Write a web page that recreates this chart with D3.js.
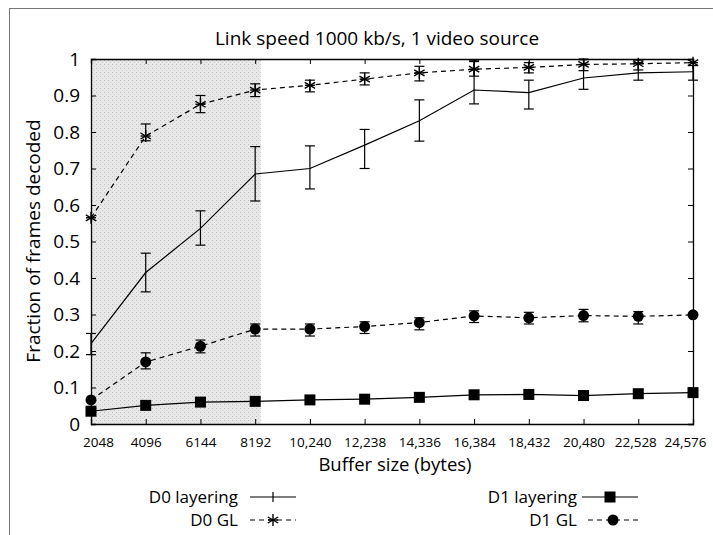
<!DOCTYPE html>
<html>
<head>
<meta charset="utf-8">
<script src="https://cdn.jsdelivr.net/npm/d3@7"></script>
<style>
  body { margin: 0; background: #fff; }
  svg { font-family: "Open Sans", "Noto Sans", sans-serif; }
</style>
</head>
<body>
<div id="chart"></div>
<script>
// buffer sizes (bytes) and their printed labels
const buffers = [2048, 4096, 6144, 8192, 10240, 12288, 14336, 16384, 18432, 20480, 22528, 24576];
const xLabels = ['2048', '4096', '6144', '8192', '10,240', '12,238', '14,336', '16,384', '18,432', '20,480', '22,528', '24,576'];
const yTicks = [0, 0.1, 0.2, 0.3, 0.4, 0.5, 0.6, 0.7, 0.8, 0.9, 1];

// fraction of frames decoded, with low/high of the error bars
const d0Layering = [0.22, 0.415, 0.536, 0.685, 0.70, 0.764, 0.831, 0.915, 0.908, 0.948, 0.962, 0.965];
const d0LayeringLo = [0.19, 0.362, 0.49, 0.611, 0.644, 0.70, 0.775, 0.877, 0.863, 0.917, 0.942, 0.942];
const d0LayeringHi = [0.248, 0.468, 0.584, 0.76, 0.762, 0.807, 0.888, 0.995, 0.942, 0.998, 0.99, 0.982];

const d0GL = [0.565, 0.789, 0.876, 0.915, 0.928, 0.945, 0.962, 0.972, 0.977, 0.985, 0.987, 0.99];
const d0GLLo = [0.565, 0.776, 0.853, 0.897, 0.91, 0.929, 0.94, 0.953, 0.962, 0.968, 0.97, 0.99];
const d0GLHi = [0.565, 0.822, 0.90, 0.932, 0.942, 0.962, 0.98, 0.993, 0.99, 1.0, 0.997, 0.99];

const d1Layering = [0.035, 0.051, 0.06, 0.062, 0.066, 0.068, 0.073, 0.08, 0.081, 0.078, 0.083, 0.086];

const d1GL = [0.066, 0.170, 0.213, 0.260, 0.260, 0.267, 0.278, 0.296, 0.291, 0.297, 0.295, 0.299];
const d1GLLo = [0.066, 0.151, 0.195, 0.241, 0.241, 0.248, 0.258, 0.278, 0.274, 0.28, 0.274, 0.299];
const d1GLHi = [0.066, 0.195, 0.23, 0.274, 0.274, 0.28, 0.291, 0.31, 0.306, 0.314, 0.308, 0.299];

const shadeEnd = 8400;

const width = 713;
const height = 535;
const plot = { left: 91, right: 693, top: 59, bottom: 424 };

const svg = d3.select('#chart')
  .append('svg')
  .attr('width', width)
  .attr('height', height);

const x = d3.scaleLinear()
  .domain([buffers[0], buffers[buffers.length - 1]])
  .range([plot.left, plot.right]);

const y = d3.scaleLinear()
  .domain([0, 1])
  .range([plot.bottom, plot.top]);

// page frame (top and left edges only, like the scan)
svg.append('line').attr('x1', 9).attr('x2', width).attr('y1', 8.5).attr('y2', 8.5)
  .attr('stroke', '#777').attr('stroke-width', 1);
svg.append('line').attr('x1', 9.5).attr('x2', 9.5).attr('y1', 8).attr('y2', height)
  .attr('stroke', '#777').attr('stroke-width', 1);

// shaded region
const pat = svg.append('defs').append('pattern')
  .attr('id', 'stipple')
  .attr('width', 4).attr('height', 4)
  .attr('patternUnits', 'userSpaceOnUse');
pat.append('rect').attr('width', 4).attr('height', 4).attr('fill', '#e8e8e8');
pat.append('rect').attr('x', 0).attr('y', 0).attr('width', 1).attr('height', 1).attr('fill', '#bcbcbc');
pat.append('rect').attr('x', 2).attr('y', 2).attr('width', 1).attr('height', 1).attr('fill', '#cccccc');

svg.append('rect')
  .attr('x', x(buffers[0]))
  .attr('y', y(1))
  .attr('width', x(shadeEnd) - x(buffers[0]))
  .attr('height', y(0) - y(1))
  .attr('fill', 'url(#stipple)');

// axes with inward ticks on all four sides
const tickLen = 5;
const xAxis = svg.append('g').attr('transform', `translate(0, ${plot.bottom})`)
  .call(d3.axisBottom(x).tickValues(buffers).tickSize(-tickLen).tickFormat((d, i) => xLabels[i]));
xAxis.selectAll('text')
  .attr('y', 13.5)
  .attr('font-size', 13.5)
  .attr('font-family', '"Open Sans", sans-serif')
  .attr('dx', (d, i) => i === 0 ? 7 : (i === buffers.length - 1 ? -8 : (i === buffers.length - 2 ? -3 : 0)));

svg.append('g').attr('transform', `translate(0, ${plot.top})`)
  .call(d3.axisTop(x).tickValues(buffers).tickSize(-tickLen).tickFormat(''));

const yAxis = svg.append('g').attr('transform', `translate(${plot.left}, 0)`)
  .call(d3.axisLeft(y).tickValues(yTicks).tickSize(-tickLen).tickFormat(d => d === 0 || d === 1 ? d : d.toFixed(1)));
yAxis.selectAll('text')
  .attr('x', -11)
  .attr('font-size', 19)
  .attr('font-family', '"Open Sans", sans-serif');

svg.append('g').attr('transform', `translate(${plot.right}, 0)`)
  .call(d3.axisRight(y).tickValues(yTicks).tickSize(-tickLen).tickFormat(''));

svg.selectAll('.domain').attr('stroke', '#000').attr('stroke-width', 1.3);
svg.selectAll('.tick line').attr('stroke', '#000');
svg.selectAll('.tick text').attr('fill', '#000');

// titles
svg.append('text')
  .attr('x', 377).attr('y', 45)
  .attr('text-anchor', 'middle')
  .attr('font-size', 19)
  .text('Link speed 1000 kb/s, 1 video source');

svg.append('text')
  .attr('x', 395).attr('y', 471)
  .attr('text-anchor', 'middle')
  .attr('font-size', 18.5)
  .text('Buffer size (bytes)');

svg.append('text')
  .attr('transform', 'translate(40, 241) rotate(-90)')
  .attr('text-anchor', 'middle')
  .attr('font-size', 19)
  .text('Fraction of frames decoded');

// series helpers
const line = d3.line().x((d, i) => x(buffers[i])).y(d => y(d));

function drawLine(values, dashed) {
  svg.append('path')
    .datum(values)
    .attr('d', line)
    .attr('fill', 'none')
    .attr('stroke', '#000')
    .attr('stroke-width', 1.2)
    .attr('stroke-dasharray', dashed ? '5,4' : null);
}

function drawErrors(lo, hi) {
  const g = svg.append('g').attr('stroke', '#000').attr('stroke-width', 1.2);
  buffers.forEach((b, i) => {
    if (hi[i] - lo[i] < 0.001) return;
    const cx = x(b);
    g.append('line').attr('x1', cx).attr('x2', cx).attr('y1', y(lo[i])).attr('y2', y(hi[i]));
    g.append('line').attr('x1', cx - 5).attr('x2', cx + 5).attr('y1', y(lo[i])).attr('y2', y(lo[i]));
    g.append('line').attr('x1', cx - 5).attr('x2', cx + 5).attr('y1', y(hi[i])).attr('y2', y(hi[i]));
  });
}

function star(g, cx, cy) {
  const r = 6;
  [0, 60, 120].forEach(a => {
    const rad = (a + 90) * Math.PI / 180;
    g.append('line')
      .attr('x1', cx - r * Math.cos(rad)).attr('y1', cy - r * Math.sin(rad))
      .attr('x2', cx + r * Math.cos(rad)).attr('y2', cy + r * Math.sin(rad))
      .attr('stroke', '#000').attr('stroke-width', 1.4);
  });
  g.append('line').attr('x1', cx - 5).attr('x2', cx + 5).attr('y1', cy).attr('y2', cy)
    .attr('stroke', '#000').attr('stroke-width', 1.4);
}

// D0 layering
drawLine(d0Layering, false);
drawErrors(d0LayeringLo, d0LayeringHi);

// D0 GL
drawLine(d0GL, true);
drawErrors(d0GLLo, d0GLHi);
const starG = svg.append('g');
d0GL.forEach((v, i) => star(starG, x(buffers[i]), y(v)));

// D1 layering
drawLine(d1Layering, false);
svg.append('g').selectAll('rect')
  .data(d1Layering)
  .join('rect')
  .attr('x', (d, i) => x(buffers[i]) - 5.5)
  .attr('y', d => y(d) - 5.5)
  .attr('width', 11)
  .attr('height', 11)
  .attr('fill', '#000');

// D1 GL
drawLine(d1GL, true);
drawErrors(d1GLLo, d1GLHi);
svg.append('g').selectAll('circle')
  .data(d1GL)
  .join('circle')
  .attr('cx', (d, i) => x(buffers[i]))
  .attr('cy', d => y(d))
  .attr('r', 5.5)
  .attr('fill', '#000');

// legend
const legend = svg.append('g').attr('font-size', 17);

function legendEntry(label, textX, ly, x1, x2, dashed, marker) {
  legend.append('text').attr('x', textX).attr('y', ly + 6).attr('text-anchor', 'end').text(label);
  legend.append('line').attr('x1', x1).attr('x2', x2).attr('y1', ly).attr('y2', ly)
    .attr('stroke', '#000').attr('stroke-width', 1.2)
    .attr('stroke-dasharray', dashed ? '5,4' : null);
  const mx = (x1 + x2) / 2;
  if (marker === 'bar') {
    legend.append('line').attr('x1', mx).attr('x2', mx).attr('y1', ly - 5).attr('y2', ly + 5)
      .attr('stroke', '#000').attr('stroke-width', 1.2);
  } else if (marker === 'star') {
    star(legend, mx, ly);
  } else if (marker === 'square') {
    legend.append('rect').attr('x', mx - 5.5).attr('y', ly - 5.5).attr('width', 11).attr('height', 11).attr('fill', '#000');
  } else if (marker === 'circle') {
    legend.append('circle').attr('cx', mx).attr('cy', ly).attr('r', 5.5).attr('fill', '#000');
  }
}

legendEntry('D0 layering', 238, 497, 250, 296, false, 'bar');
legendEntry('D0 GL', 238, 520, 250, 296, true, 'star');
legendEntry('D1 layering', 577, 497, 582, 638, false, 'square');
legendEntry('D1 GL', 577, 520, 588, 638, true, 'circle');
</script>
</body>
</html>
